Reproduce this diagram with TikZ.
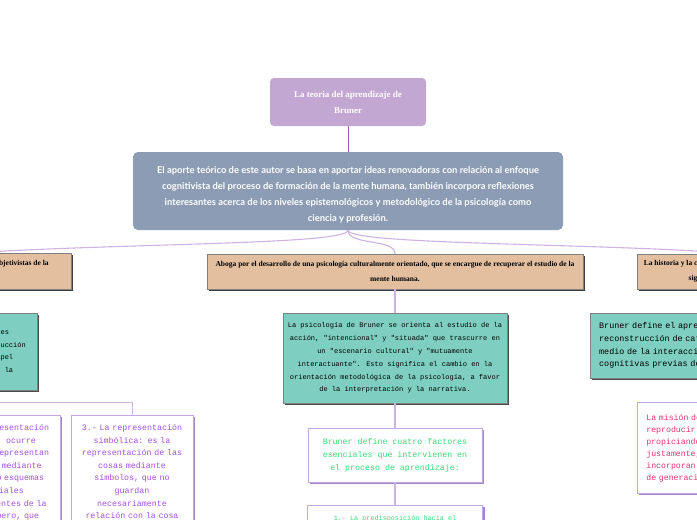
\documentclass[tikz,border=0pt]{standalone}
\usepackage{fontspec}
\usepackage{xcolor}
\setmainfont{Liberation Serif}
\newfontfamily\brunersans{Lato}
\newfontfamily\brunermono{Liberation Mono}
\usetikzlibrary{positioning,shadows}
\definecolor{TitleLilac}{HTML}{C3A7D3}
\definecolor{SlateBlue}{HTML}{8B9CB4}
\definecolor{Sand}{HTML}{E3BFA0}
\definecolor{Teal}{HTML}{7ECFC1}
\definecolor{LinkLilac}{HTML}{CDB2E2}
\definecolor{StemPurple}{HTML}{9B5CC0}
\definecolor{BoxLilac}{HTML}{C4A6E2}
\definecolor{ShadeLilac}{HTML}{A586C8}
\definecolor{LeafGreen}{HTML}{33DD77}
\definecolor{Violet}{HTML}{A54FE0}
\definecolor{Rose}{HTML}{E8336E}

\tikzset{
  sandbox/.style={fill=Sand, draw=black!50, line width=0.4pt, inner sep=0pt,
    drop shadow={shadow xshift=1.8pt, shadow yshift=-1.8pt, fill=black!75, opacity=1},
    align=center, font=\bfseries\fontsize{7.5}{15}\selectfont},
  tealbox/.style={fill=Teal, draw=black!50, line width=0.4pt, inner sep=0pt,
    drop shadow={shadow xshift=1.8pt, shadow yshift=-1.8pt, fill=black!70, opacity=1}},
  notebox/.style={fill=white, draw=BoxLilac, line width=0.8pt,
    drop shadow={shadow xshift=2pt, shadow yshift=-2pt, fill=ShadeLilac, opacity=1}},
  link/.style={draw=LinkLilac, line width=1.1pt},
}

\begin{document}
\begin{tikzpicture}[x=1pt, y=-1pt]
  \useasboundingbox (0,0) rectangle (697,520);
  \clip (0,0) rectangle (697,520);

  % title and main idea
  \node[fill=TitleLilac, rounded corners=4pt, minimum width=156pt, minimum height=48pt,
        text=white, align=center, font=\bfseries\fontsize{9}{16}\selectfont]
        (title) at (348,102) {La teoria del aprendizaje de\\Bruner};
  \node[fill=SlateBlue, rounded corners=5pt, minimum width=430pt, minimum height=78pt,
        text=white, align=center, font=\brunersans\bfseries\fontsize{9.4}{16}\selectfont]
        (aporte) at (348,191) {\rule{0pt}{14pt}El aporte teórico de este autor se basa en aportar ideas renovadoras con relación al enfoque\\
        cognitivista del proceso de formación de la mente humana, también incorpora reflexiones\\
        interesantes acerca de los niveles epistemológicos y metodológico de la psicología como\\
        ciencia y profesión.};
  \draw[StemPurple, line width=1pt] (title.south) -- (aporte.north);

  % three branches
  \node[sandbox, minimum width=210pt, minimum height=36pt, anchor=east]
        (critica) at (71,271.5) {Critica las posturas racionalistas y objetivistas de la\\psicología cognitiva.};
  \node[sandbox, minimum width=376pt, minimum height=35pt]
        (cultura) at (395,271.5) {Aboga por el desarrollo de una psicología culturalmente orientado, que se encargue de recuperar el estudio de la\\mente humana.};
  \node[sandbox, minimum width=206pt, minimum height=35pt, anchor=west]
        (historia) at (637,271.5) {La historia y la cultura como contexto de la construcción del\\significado de la mente humana.};
  \draw[link] (aporte.south) .. controls (348,245) and (120,243) .. (critica.north);
  \draw[link] (aporte.south) .. controls (348,246) and (395,238) .. (cultura.north);
  \draw[link] (aporte.south) .. controls (348,245) and (600,243) .. (historia.north);

  % teal boxes
  \node[tealbox, minimum width=218pt, minimum height=77pt, anchor=east,
        inner xsep=11pt, align=left, font=\brunermono\fontsize{7}{12.5}\selectfont]
        (procesos) at (37,351.5) {Critica las teorías de los procesos mentales\\
        individuales, centrándose más en la construcción\\
        social del significado, donde cumple un papel\\
        fundamental la cultura que se encuentra en la};
  \node[tealbox, minimum width=224pt, minimum height=90pt, align=center,
        font=\brunermono\fontsize{7}{12.8}\selectfont]
        (psicologia) at (395,358) {La psicología de Bruner se orienta al estudio de la\\
        acción, "intencional" y "situada" que trascurre en\\
        un "escenario cultural" y "mutuamente\\
        interactuante". Esto significa el cambio en la\\
        orientación metodológica de la psicología, a favor\\
        de la interpretación y la narrativa.};
  \node[tealbox, minimum width=240pt, minimum height=65pt, anchor=west, text width=222pt,
        inner xsep=9pt, align=left, font=\brunermono\fontsize{8.4}{12.8}\selectfont]
        (reconstruccion) at (590,345.5) {Bruner define el aprendizaje como la\\
        reconstrucción de categorías, por\\
        medio de la interacción con estructuras\\
        cognitivas previas del sujeto.};
  \draw[link] (cultura.south) -- (psicologia.north);

  % representaciones
  \node[notebox, anchor=north, text width=110pt, inner xsep=6pt, inner ysep=9pt, align=center,
        text=Violet, font=\brunermono\fontsize{8.3}{12.6}\selectfont]
        (iconica) at (-1,415) {2.- La representación\\icónica: ocurre\\cuando se representan\\las cosas mediante\\
        imágenes o esquemas\\espaciales\\independientes de la\\acción, pero, que};
  \node[notebox, anchor=north, text width=110pt, inner xsep=6pt, inner ysep=9pt, align=center,
        text=Violet, font=\brunermono\fontsize{8.3}{12.6}\selectfont]
        (simbolica) at (132,415) {3.- La representación\\simbólica: es la\\representación de las\\cosas mediante\\
        símbolos, que no\\guardan\\necesariamente\\relación con la cosa};
  \draw[link, line width=0.9pt] (procesos.south) -- ++(0,12) coordinate (split) -| (simbolica.north);
  \draw[link, line width=0.9pt] (split) -| (iconica.north);

  % factores
  \node[notebox, minimum width=174pt, minimum height=54pt, align=center, text=LeafGreen,
        font=\brunermono\fontsize{8.3}{13}\selectfont]
        (factores) at (395,455) {Bruner define cuatro factores\\esenciales que intervienen en\\el proceso de aprendizaje:};
  \node[notebox, anchor=north, minimum width=175pt, inner ysep=10pt, align=center, text=LeafGreen,
        font=\brunermono\fontsize{6.8}{12}\selectfont]
        (disposicion) at (395,505) {1.- La predisposición hacia el\\aprendizaje.};
  \draw[link] (psicologia.south) -- (factores.north);
  \draw[link] (factores.south) -- (disposicion.north);

  % escuela
  \node[notebox, anchor=north west, minimum width=180pt, minimum height=91pt, text width=162pt,
        inner xsep=9pt, align=left, text=Rose, font=\brunermono\fontsize{8.2}{12}\selectfont]
        (mision) at (637,402) {La misión de la escuela es\\reproducir la cultura,\\propiciando que los sujetos,\\
        justamente, se\\incorporan a ella\\de generación en generación.};
\end{tikzpicture}
\end{document}
